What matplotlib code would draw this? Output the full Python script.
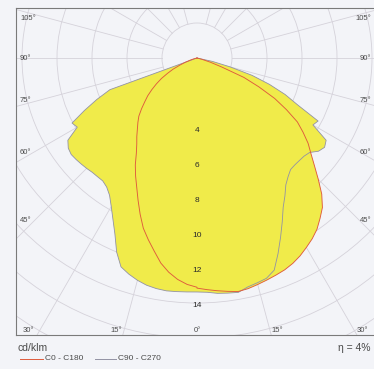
import matplotlib
matplotlib.use('Agg')
import matplotlib.pyplot as plt
from matplotlib.patches import Circle
import numpy as np

plt.rcParams['font.family'] = ['Liberation Sans', 'DejaVu Sans']

# gamma angle from nadir (deg)
gamma = [0, 2.5, 5, 7.5, 10, 12.5, 15, 17.5, 20, 22.5, 25, 27.5, 30, 32.5, 35, 37.5,
         40, 42.5, 45, 47.5, 50, 52.5, 55, 57.5, 60, 62.5, 65, 67.5, 70, 72.5, 75, 77.5, 80]

# luminous intensity, cd/klm
c0 = [13.15, 13.25, 13.35, 13.45, 13.55, 13.5, 13.4, 13.3, 13.2, 13.1, 12.95, 12.75,
      12.5, 12.25, 11.95, 11.55, 11.15, 10.55, 9.8, 9.1, 8.5, 8.0, 7.4, 6.8, 5.9, 5.0,
      3.9, 2.9, 1.5, 0.8, 0.3, 0.0, 0.0]
c180 = [13.1, 12.95, 12.7, 12.35, 11.9, 11.3, 10.75, 10.2, 9.5, 8.8, 8.15, 7.6, 7.05,
        6.45, 6.0, 5.65, 5.3, 5.0, 4.7, 4.3, 3.9, 3.55, 3.15, 2.75, 2.35, 1.9, 1.5, 1.05,
        0.7, 0.4, 0.2, 0.0, 0.0]
c90 = [13.37, 13.4, 13.5, 13.55, 13.6, 13.4, 13.3, 13.2, 12.9, 12.1, 11.3, 10.55, 9.85,
       9.35, 8.85, 8.55, 8.32, 8.28, 8.28, 8.3, 8.4, 8.75, 8.9, 8.75, 7.65, 7.8, 6.35,
       5.45, 4.4, 3.3, 1.95, 0.9, 0.0]
c270 = [13.37, 13.38, 13.4, 13.42, 13.38, 13.3, 13.15, 12.95, 12.7, 12.0, 11.1, 10.4,
        9.8, 9.3, 9.0, 8.85, 8.85, 8.86, 8.92, 8.97, 9.02, 9.06, 8.98, 8.75, 7.9, 8.05,
        7.1, 6.2, 5.3, 0.0, 0.0, 0.0, 0.0]

rings = [2, 4, 6, 8, 10, 12, 14, 16, 18, 20]
ring_labels = [4, 6, 8, 10, 12, 14]
spokes = [15, 30, 45, 60, 75, 90, 105, 120, 135, 150, 165]
side_labels = ['105°', '90°', '75°', '60°', '45°']
bottom_labels = ['30°', '15°', '0°', '15°', '30°']

W, H = 374, 369
bg = '#f3f4f8'
grid_col = '#d5d2da'
yellow = '#f0eb4a'
red = '#df5b3c'
gray = '#9292a4'
txt = '#4a4a4a'

# px per cd/klm and centre of the diagram in figure pixels
scale = 17.5
cx, cy = 197, 58
left, top, right, bottom = 16, 8, 374, 335

fig = plt.figure(figsize=(W / 100, H / 100), dpi=100, facecolor=bg)
ax = fig.add_axes([left / W, 1 - bottom / H, (right - left) / W, (bottom - top) / H])
ax.set_facecolor(bg)
ax.set_xlim((left - cx) / scale, (right - cx) / scale)
ax.set_ylim((cy - bottom) / scale, (cy - top) / scale)
ax.set_xticks([])
ax.set_yticks([])
for s in ['left', 'top', 'bottom']:
    ax.spines[s].set_color('#7a7a7a')
    ax.spines[s].set_linewidth(0.8)
ax.spines['right'].set_visible(False)

# polar grid
for r in rings:
    ax.add_patch(Circle((0, 0), r, fill=False, ec=grid_col, lw=0.6, zorder=1))
for a in spokes:
    t = np.radians(a)
    for side in (-1, 1):
        ax.plot([side * 2 * np.sin(t), side * 30 * np.sin(t)],
                [-2 * np.cos(t), -30 * np.cos(t)], color=grid_col, lw=0.6, zorder=1)


def plane_xy(right_vals, left_vals):
    g = np.radians(gamma)
    r_ = np.array(right_vals)
    l_ = np.array(left_vals)
    x = np.concatenate([(-l_ * np.sin(g))[::-1], r_ * np.sin(g)])
    y = np.concatenate([(-l_ * np.cos(g))[::-1], -r_ * np.cos(g)])
    return x, y


x1, y1 = plane_xy(c0, c180)
x2, y2 = plane_xy(c90, c270)
ax.fill(x1, y1, color=yellow, lw=0, zorder=2)
ax.fill(x2, y2, color=yellow, lw=0, zorder=2)
ax.plot(x2, y2, color=gray, lw=0.6, zorder=3)
ax.plot(x1, y1, color=red, lw=0.65, zorder=4)

for v in ring_labels:
    ax.text(0, -v - 0.15, str(v), ha='center', va='center', fontsize=6,
            color='#2a2a2a', zorder=5)


def put(px, py, s, **kw):
    fig.text(px / W, 1 - py / H, s, **kw)


side_y = [19, 58, 101, 152, 220]
for s, py in zip(side_labels, side_y):
    put(20, py, s, ha='left', va='center', fontsize=5.5, color=txt)
    put(371, py, s, ha='right', va='center', fontsize=5.5, color=txt)

bottom_x = [28, 116, 197, 277, 362]
for s, px in zip(bottom_labels, bottom_x):
    put(px, 330, s, ha='center', va='center', fontsize=5.5, color=txt)

put(18, 348, 'cd/klm', ha='left', va='center', fontsize=7.5, color=txt)
put(371, 348, 'η = 4%', ha='right', va='center', fontsize=7.5, color=txt)

# legend
fig.add_artist(plt.Line2D([20 / W, 43 / W], [1 - 359 / H] * 2, color=red, lw=0.7))
put(45, 359, 'C0 - C180', ha='left', va='center', fontsize=6, color=txt)
fig.add_artist(plt.Line2D([95 / W, 116 / W], [1 - 359 / H] * 2, color=gray, lw=0.7))
put(118, 359, 'C90 - C270', ha='left', va='center', fontsize=6, color=txt)

fig.savefig('out.png', dpi=100, facecolor=bg)
